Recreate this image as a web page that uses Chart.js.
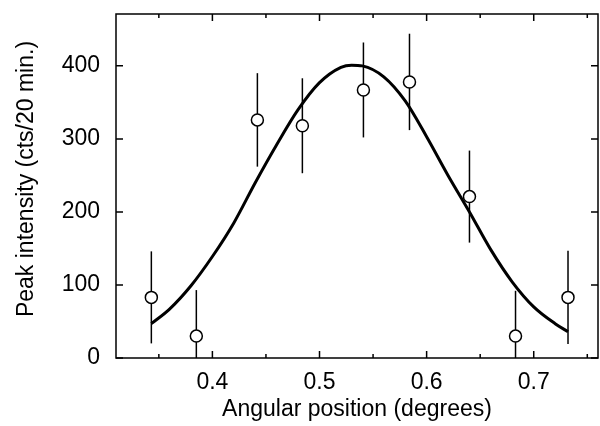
<!DOCTYPE html>
<html lang="en">
<head>
  <meta charset="UTF-8" />
  <title>Peak intensity vs angular position</title>
  <script src="https://cdn.jsdelivr.net/npm/chart.js"></script>
  <style>
    html, body { margin: 0; padding: 0; background: #fff; }
    canvas { display: block; }
  </style>
</head>
<body>
  <canvas id="peakChart" width="600" height="426"></canvas>
  <script>
    // measured points (degrees, cts/20 min.) and their error bars
    const xPoints = [0.343, 0.385, 0.442, 0.484, 0.541, 0.584, 0.640, 0.683, 0.732];
    const yPoints = [83, 30, 326, 318, 367, 378, 221, 30, 83];
    const yErr = [63, 63, 64, 65, 65, 66, 63, 62, 64];

    // fitted curve
    const fitX = [0.343, 0.36, 0.38, 0.40, 0.42, 0.44, 0.46, 0.48, 0.50, 0.52, 0.53, 0.54,
                  0.56, 0.58, 0.60, 0.62, 0.64, 0.66, 0.68, 0.70, 0.72, 0.732];
    const fitY = [47, 67, 99, 139, 185, 240, 292, 340, 377, 398, 401, 400,
                  385, 352, 303, 250, 200, 148, 104, 70, 47, 36];

    // ticks: labelled ones on x are 0.4 .. 0.7, the rest are minor
    const xTicks = [0.35, 0.40, 0.45, 0.50, 0.55, 0.60, 0.65, 0.70, 0.75];
    const xLabelled = [0.4, 0.5, 0.6, 0.7];
    const yTicks = [0, 100, 200, 300, 400];

    const xMin = 0.31, xMax = 0.76;
    const yMin = 0, yMax = 471;

    const xTitle = 'Angular position (degrees)';
    const yTitle = 'Peak intensity (cts/20 min.)';

    const FONT = 'Liberation Sans, Arial, Helvetica, sans-serif';
    const isMajor = v => xLabelled.some(m => Math.abs(m - v) < 1e-6);

    // error bars under the circles, clipped to the plot box
    const errorBars = {
      id: 'errorBars',
      beforeDatasetsDraw(chart) {
        const { ctx, chartArea, scales: { x, y } } = chart;
        ctx.save();
        ctx.beginPath();
        ctx.rect(chartArea.left, chartArea.top, chartArea.right - chartArea.left, chartArea.bottom - chartArea.top);
        ctx.clip();
        ctx.strokeStyle = '#000';
        ctx.lineWidth = 1.5;
        xPoints.forEach((xv, i) => {
          const px = x.getPixelForValue(xv);
          ctx.beginPath();
          ctx.moveTo(px, y.getPixelForValue(yPoints[i] - yErr[i]));
          ctx.lineTo(px, y.getPixelForValue(yPoints[i] + yErr[i]));
          ctx.stroke();
        });
        ctx.restore();
      }
    };

    // box frame with inward ticks on all four sides, plus the y title
    // (the original title sits a bit above the middle of the axis)
    const frame = {
      id: 'frame',
      afterDraw(chart) {
        const { ctx, chartArea: a, scales: { x, y } } = chart;
        ctx.save();
        ctx.strokeStyle = '#000';
        ctx.lineWidth = 1.5;
        ctx.strokeRect(a.left, a.top, a.right - a.left, a.bottom - a.top);
        ctx.beginPath();
        x.ticks.forEach(t => {
          const px = x.getPixelForValue(t.value);
          const len = isMajor(t.value) ? 7 : 4;
          ctx.moveTo(px, a.bottom); ctx.lineTo(px, a.bottom - len);
          ctx.moveTo(px, a.top); ctx.lineTo(px, a.top + len);
        });
        y.ticks.forEach(t => {
          const py = y.getPixelForValue(t.value);
          ctx.moveTo(a.left, py); ctx.lineTo(a.left + 7, py);
          ctx.moveTo(a.right, py); ctx.lineTo(a.right - 7, py);
        });
        ctx.stroke();

        ctx.translate(33, (a.top + a.bottom) / 2 - 7);
        ctx.rotate(-Math.PI / 2);
        ctx.fillStyle = '#000';
        ctx.font = '23px ' + FONT;
        ctx.textAlign = 'center';
        ctx.textBaseline = 'alphabetic';
        ctx.fillText(yTitle, 0, 0);
        ctx.restore();
      }
    };

    new Chart(document.getElementById('peakChart'), {
      data: {
        datasets: [
          {
            type: 'line',
            label: 'fit',
            data: fitX.map((v, i) => ({ x: v, y: fitY[i] })),
            borderColor: '#000',
            borderWidth: 3,
            pointRadius: 0,
            tension: 0.4,
            cubicInterpolationMode: 'monotone',
            fill: false,
            order: 0
          },
          {
            type: 'scatter',
            label: 'data',
            data: xPoints.map((v, i) => ({ x: v, y: yPoints[i] })),
            pointRadius: 6,
            pointBackgroundColor: '#fff',
            pointBorderColor: '#000',
            pointBorderWidth: 1.5,
            order: 1
          }
        ]
      },
      options: {
        responsive: false,
        animation: false,
        layout: { autoPadding: false, padding: { top: 14, right: 2, left: 0, bottom: 0 } },
        plugins: { legend: { display: false }, tooltip: { enabled: false } },
        scales: {
          x: {
            type: 'linear',
            min: xMin,
            max: xMax,
            grid: { display: false, drawTicks: false },
            border: { display: false },
            afterBuildTicks(scale) { scale.ticks = xTicks.map(v => ({ value: v })); },
            ticks: {
              padding: 11,
              color: '#000',
              font: { family: FONT, size: 23 },
              maxRotation: 0,
              autoSkip: false,
              callback: v => isMajor(v) ? v.toFixed(1) : ''
            },
            title: {
              display: true,
              text: xTitle,
              color: '#000',
              font: { family: FONT, size: 23 },
              padding: { top: 0, bottom: 3 }
            },
            afterFit(scale) {
              scale.height = 68;
              scale.paddingLeft = 0;
              scale.paddingRight = 0;
            }
          },
          y: {
            type: 'linear',
            min: yMin,
            max: yMax,
            grid: { display: false, drawTicks: false },
            border: { display: false },
            afterBuildTicks(scale) { scale.ticks = yTicks.map(v => ({ value: v })); },
            ticks: {
              padding: 16,
              color: '#000',
              font: { family: FONT, size: 23 }
            },
            title: { display: false },
            afterFit(scale) {
              scale.width = 116;
              scale.paddingTop = 0;
              scale.paddingBottom = 0;
            }
          }
        }
      },
      plugins: [errorBars, frame]
    });
  </script>
</body>
</html>
